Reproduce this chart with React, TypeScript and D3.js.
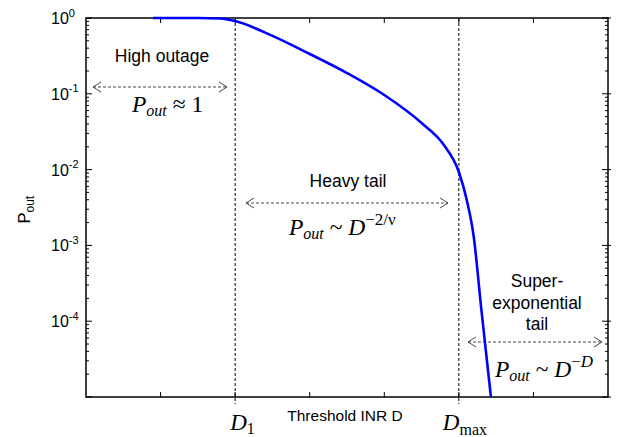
import React from "react";
import * as d3 from "d3";

// Outage probability versus threshold INR D
const D_VALUES = [0.9, 1.5, 1.8, 2.0, 2.5, 3.0, 3.5, 4.0, 4.5, 4.8, 5.0, 5.1, 5.2, 5.3, 5.43];
const P_OUT = [1, 1, 0.985, 0.91, 0.58, 0.335, 0.188, 0.0964, 0.0412, 0.0211, 0.0093, 0.0042, 0.00129, 0.000148, 0.00001];

const X_TICKS = [1, 2, 3, 4, 5, 6];
const Y_EXPONENTS = [0, -1, -2, -3, -4];
const D1 = 2;
const D_MAX = 5;

const W = 619;
const H = 437;
const M = { left: 86, right: 11, top: 18, bottom: 40 };

const SANS = "'Liberation Sans', Arial, Helvetica, sans-serif";
const SERIF = "'Liberation Serif', 'Times New Roman', serif";

function DashedArrow({ x1, x2, y }: { x1: number; x2: number; y: number }) {
  const h = 8;
  const v = 5;
  return (
    <g stroke="#333" strokeWidth={0.9} fill="none">
      <line x1={x1} x2={x2} y1={y} y2={y} strokeDasharray="3,2" />
      <path d={`M${x1 + h},${y - v}L${x1},${y}L${x1 + h},${y + v}`} />
      <path d={`M${x2 - h},${y - v}L${x2},${y}L${x2 - h},${y + v}`} />
    </g>
  );
}

export default function App() {
  const x = d3.scaleLinear().domain([0, 7]).range([M.left, W - M.right]);
  const y = d3.scaleLog().domain([1e-5, 1]).range([H - M.bottom, M.top]);

  const [x0, x1] = x.range();
  const [yb, yt] = y.range();

  const line = d3
    .line<number>()
    .x((_, i) => x(D_VALUES[i]))
    .y((d) => y(d))
    .curve(d3.curveMonotoneX);

  const minor: number[] = [];
  for (let e = -5; e < 0; e++) {
    for (let k = 2; k <= 9; k++) minor.push(k * Math.pow(10, e));
  }
  const major = [-5, ...Y_EXPONENTS].map((e) => Math.pow(10, e));

  return (
    <svg
      width={W}
      height={H}
      style={{ position: "absolute", left: 0, top: 0, background: "#fff" }}
    >
      {/* dashed region boundaries */}
      {[D1, D_MAX].map((d) => (
        <line
          key={d}
          x1={x(d)}
          x2={x(d)}
          y1={yt}
          y2={yb + 7}
          stroke="#000"
          strokeWidth={1}
          strokeDasharray="3,2"
        />
      ))}

      {/* ticks */}
      <g stroke="#000" strokeWidth={1}>
        {X_TICKS.map((t) => (
          <g key={t}>
            <line x1={x(t)} x2={x(t)} y1={yb} y2={yb - 5} />
            <line x1={x(t)} x2={x(t)} y1={yt} y2={yt + 5} />
          </g>
        ))}
        {major.map((v) => (
          <g key={v}>
            <line x1={x0} x2={x0 + 6} y1={y(v)} y2={y(v)} />
            <line x1={x1 - 6} x2={x1 + 3} y1={y(v)} y2={y(v)} />
          </g>
        ))}
        {minor.map((v) => (
          <g key={v}>
            <line x1={x0} x2={x0 + 3} y1={y(v)} y2={y(v)} />
            <line x1={x1 - 3} x2={x1} y1={y(v)} y2={y(v)} />
          </g>
        ))}
      </g>

      {/* y tick labels */}
      {Y_EXPONENTS.map((e) => (
        <text
          key={e}
          x={x0 - 35}
          y={y(Math.pow(10, e)) + 6}
          fontFamily={SANS}
          fontSize={16}
          fill="#000"
        >
          10
          <tspan fontSize={11} dy={-7.5}>
            {e}
          </tspan>
        </text>
      ))}

      {/* y axis label */}
      <text
        transform={`translate(30,${(yt + yb) / 2 + 16}) rotate(-90)`}
        fontFamily={SANS}
        fontSize={16.5}
        fill="#000"
      >
        P
        <tspan fontSize={12} dy={4}>
          out
        </tspan>
      </text>

      {/* x axis labels */}
      <text x={345} y={421} textAnchor="middle" fontFamily={SANS} fontSize={15.5} fill="#000">
        Threshold INR D
      </text>
      <text x={x(D1) - 5} y={430} fontFamily={SERIF} fontSize={23} fill="#000">
        <tspan fontStyle="italic">D</tspan>
        <tspan fontSize={16} dy={4}>1</tspan>
      </text>
      <text x={x(D_MAX) - 16} y={430} fontFamily={SERIF} fontSize={23} fill="#000">
        <tspan fontStyle="italic">D</tspan>
        <tspan fontSize={16} dy={5}>max</tspan>
      </text>

      {/* high outage region */}
      <text x={162} y={62} textAnchor="middle" fontFamily={SANS} fontSize={17.5} fill="#000">
        High outage
      </text>
      <DashedArrow x1={93} x2={227} y={87} />
      <text x={132} y={112} fontFamily={SERIF} fontSize={23.5} fill="#000">
        <tspan fontStyle="italic">P</tspan>
        <tspan fontStyle="italic" fontSize={16} dy={4}>out</tspan>
        <tspan dy={-4}> ≈ 1</tspan>
      </text>

      {/* heavy tail region */}
      <text x={348} y={187} textAnchor="middle" fontFamily={SANS} fontSize={17.5} fill="#000">
        Heavy tail
      </text>
      <DashedArrow x1={246} x2={448} y={203} />
      <text x={289} y={235} fontFamily={SERIF} fontSize={23.5} fill="#000">
        <tspan fontStyle="italic">P</tspan>
        <tspan fontStyle="italic" fontSize={16} dy={4}>out</tspan>
        <tspan dy={-4}> ~ </tspan>
        <tspan fontStyle="italic">D</tspan>
        <tspan fontSize={17} dy={-10}>−2/ν</tspan>
      </text>

      {/* super-exponential tail region */}
      <text textAnchor="middle" fontFamily={SANS} fontSize={17.5} fill="#000">
        <tspan x={537} y={287}>Super-</tspan>
        <tspan x={537} y={309}>exponential</tspan>
        <tspan x={537} y={330}>tail</tspan>
      </text>
      <DashedArrow x1={468} x2={602} y={342} />
      <text x={495} y={377} fontFamily={SERIF} fontSize={23.5} fill="#000">
        <tspan fontStyle="italic">P</tspan>
        <tspan fontStyle="italic" fontSize={16} dy={4}>out</tspan>
        <tspan dy={-4}> ~ </tspan>
        <tspan fontStyle="italic">D</tspan>
        <tspan fontSize={17} dy={-10}>−</tspan>
        <tspan fontSize={17} fontStyle="italic">D</tspan>
      </text>

      {/* axes box */}
      <rect
        x={x0}
        y={yt}
        width={x1 - x0}
        height={yb - yt}
        fill="none"
        stroke="#000"
        strokeWidth={1.5}
      />

      {/* outage curve */}
      <path d={line(P_OUT) || ""} fill="none" stroke="#0000ff" strokeWidth={2.6} />
    </svg>
  );
}
